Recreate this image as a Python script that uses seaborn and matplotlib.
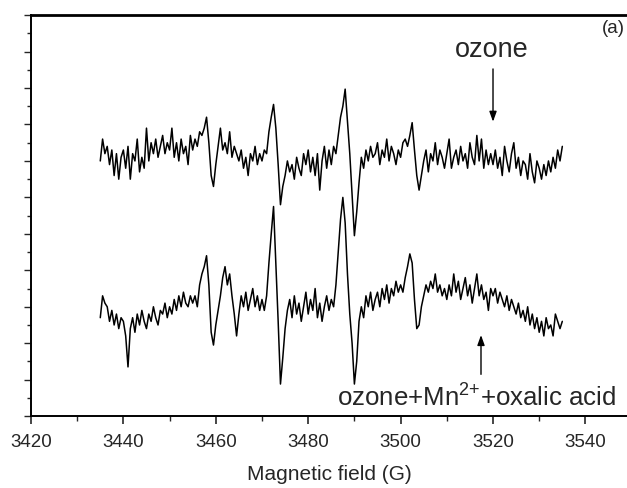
import numpy as np
import pandas as pd
import matplotlib
matplotlib.use("Agg")
import matplotlib.pyplot as plt
from matplotlib.ticker import MultipleLocator, NullFormatter
import seaborn as sns

# Field sweep (G): 201 points, 0.5 G apart, 3435 -> 3535
field = np.linspace(3435, 3535, 201)

# EPR trace, ozone only (offset upward)
ozone = [
    7.0, 7.6, 7.2, 7.4, 6.9, 7.3, 6.6, 7.2, 6.5, 7.1,
    7.3, 6.8, 7.4, 6.5, 7.2, 7.0, 7.6, 6.7, 7.1, 6.8,
    7.9, 7.0, 7.5, 7.2, 7.6, 7.1, 7.4, 7.7, 7.2, 7.5,
    7.3, 7.9, 7.1, 7.5, 7.0, 7.6, 7.2, 7.4, 6.9, 7.7,
    7.3, 7.6, 7.4, 7.8, 7.7, 7.9, 8.2, 7.5, 6.6, 6.3,
    6.9, 7.4, 7.9, 7.3, 7.5, 7.2, 7.8, 7.1, 7.4, 7.2,
    7.0, 7.3, 6.8, 7.1, 6.6, 7.2, 7.0, 7.4, 6.9, 7.2,
    7.0, 7.3, 7.2, 7.8, 8.2, 8.55, 7.9, 6.9, 5.8, 6.3,
    6.6, 7.0, 6.7, 6.9, 6.5, 7.1, 6.8, 6.6, 7.2, 6.9,
    7.3, 6.7, 7.1, 6.6, 7.2, 6.2, 7.0, 7.4, 6.8, 7.3,
    6.9, 7.4, 7.2, 7.7, 8.2, 8.5, 8.97, 8.1, 7.2, 6.1,
    4.95, 5.6, 6.4, 7.1, 6.8, 7.3, 7.0, 7.4, 7.1, 7.2,
    7.5, 6.9, 7.3, 7.1, 7.6, 7.0, 7.4, 7.2, 6.9, 7.3,
    7.1, 7.5, 7.6, 7.4, 7.7, 8.05, 7.3, 6.6, 6.2, 6.6,
    7.0, 7.3, 6.7, 7.2, 7.0, 7.5, 6.9, 7.3, 7.1, 6.8,
    7.2, 7.6, 6.8, 7.1, 7.3, 6.9, 7.4, 7.0, 7.2, 6.8,
    7.5, 7.1, 6.9, 7.7, 7.0, 7.6, 6.8, 7.3, 6.9, 7.2,
    6.9, 7.3, 6.8, 7.1, 6.6, 7.4, 7.0, 6.7, 7.2, 7.5,
    6.8, 7.1, 6.6, 7.0, 6.9, 6.5, 7.2, 6.7, 6.4, 7.0,
    6.8, 6.5, 6.9, 6.6, 7.0, 6.7, 7.1, 6.8, 7.3, 7.0,
    7.4,
]

# EPR trace, ozone + Mn2+ + oxalic acid
ozone_mn_ox = [
    2.7, 3.3, 3.1, 3.0, 2.6, 2.9, 2.5, 2.8, 2.4, 2.7,
    2.6, 2.2, 1.35, 2.4, 2.7, 2.3, 2.8, 2.5, 2.9, 2.6,
    2.4, 2.8, 2.6, 3.0, 2.7, 2.5, 2.9, 2.8, 3.1, 2.7,
    3.0, 2.8, 3.2, 2.9, 3.3, 3.0, 3.4, 3.1, 3.0, 3.3,
    3.1, 3.3, 3.0, 3.6, 3.9, 4.1, 4.4, 3.6, 2.3, 1.95,
    2.5, 2.9, 3.3, 3.8, 4.1, 3.6, 3.9, 3.3, 2.8, 2.2,
    2.8, 3.3, 3.0, 3.4, 2.9, 3.2, 3.5, 3.0, 3.3, 2.9,
    3.2, 2.9, 3.3, 4.2, 5.0, 5.75, 4.2, 2.6, 0.88, 1.6,
    2.4, 2.9, 3.2, 2.7, 3.3, 2.8, 3.1, 2.6, 3.0, 3.4,
    2.8, 3.2, 2.9, 3.5, 2.7, 3.1, 2.6, 3.0, 3.3, 2.9,
    3.2, 3.0, 3.6, 4.5, 5.4, 6.0, 5.3, 3.9, 2.8, 2.0,
    0.88, 1.5, 2.6, 3.0, 2.7, 3.3, 3.0, 3.4, 2.9, 3.2,
    3.4, 3.0, 3.5, 3.2, 3.6, 3.1, 3.5, 3.3, 3.7, 3.4,
    3.6, 3.4, 3.8, 4.1, 4.45, 4.2, 3.2, 2.4, 2.5, 3.0,
    3.3, 3.6, 3.4, 3.7, 3.5, 3.9, 3.4, 3.6, 3.3, 3.5,
    3.2, 3.6, 3.3, 3.9, 3.4, 3.7, 3.2, 3.5, 3.8, 3.3,
    3.6, 3.1, 3.5, 3.9, 3.3, 3.6, 3.2, 3.4, 2.9, 3.5,
    3.3, 3.5, 3.1, 3.4, 3.2, 3.0, 3.3, 2.9, 3.2, 3.0,
    2.8, 3.1, 2.7, 2.9, 2.6, 3.0, 2.5, 2.8, 2.4, 2.7,
    2.3, 2.6, 2.2, 2.7, 2.4, 2.5, 2.2, 2.8, 2.6, 2.4,
    2.6,
]

df = pd.DataFrame({"field": field, "ozone": ozone, "mix": ozone_mn_ox})

sns.set_theme(style="ticks")
plt.rcParams["font.family"] = ["Liberation Sans", "DejaVu Sans"]
plt.rcParams["mathtext.fontset"] = "custom"
plt.rcParams["mathtext.rm"] = "Liberation Sans"
plt.rcParams["mathtext.it"] = "Liberation Sans"

fig = plt.figure(figsize=(6.27, 4.89), dpi=100)
ax = fig.add_axes([0.0494, 0.147, 0.9506, 0.820])

sns.lineplot(data=df, x="field", y="ozone", ax=ax, color="black", lw=1.1, estimator=None)
sns.lineplot(data=df, x="field", y="mix", ax=ax, color="black", lw=1.1, estimator=None)

ax.set_xlim(3420, 3549)
ax.set_ylim(0, 11)

# ticks
ax.xaxis.set_major_locator(MultipleLocator(20))
ax.xaxis.set_minor_locator(MultipleLocator(10))
ax.yaxis.set_major_locator(MultipleLocator(1))
ax.yaxis.set_minor_locator(MultipleLocator(0.5))
ax.yaxis.set_major_formatter(NullFormatter())
ax.tick_params(axis="x", which="major", direction="out", length=6, width=1.2, labelsize=13.5, pad=6)
ax.tick_params(axis="x", which="minor", direction="out", length=3.5, width=1.0)
ax.tick_params(axis="y", which="major", direction="out", length=5, width=1.0, left=True)
ax.tick_params(axis="y", which="minor", direction="out", length=3, width=1.0, left=True)

for side in ["left", "bottom"]:
    ax.spines[side].set_linewidth(1.4)
    ax.spines[side].set_color("black")
ax.spines["top"].set_linewidth(2.0)
ax.spines["top"].set_color("black")
ax.spines["right"].set_visible(False)

ax.set_xlabel("Magnetic field (G)", fontsize=15, labelpad=10)
ax.set_ylabel("")

# annotations
ax.text(3519.7, 9.89, "ozone", fontsize=19.5, ha="center", va="baseline")
ax.annotate("", xy=(3520, 8.0), xytext=(3520, 9.6),
            arrowprops=dict(arrowstyle="-|>,head_width=0.18,head_length=0.5", color="black", lw=1))
ax.text(3546.6, 0.28, "ozone+Mn$^{2{+}}$+oxalic acid", fontsize=18.6, ha="right", va="baseline")
ax.annotate("", xy=(3517.4, 2.3), xytext=(3517.4, 1.07),
            arrowprops=dict(arrowstyle="-|>,head_width=0.18,head_length=0.5", color="black", lw=1))
ax.text(3548.5, 10.66, "(a)", fontsize=13.5, ha="right", va="center")

fig.savefig("out.png", dpi=100)
